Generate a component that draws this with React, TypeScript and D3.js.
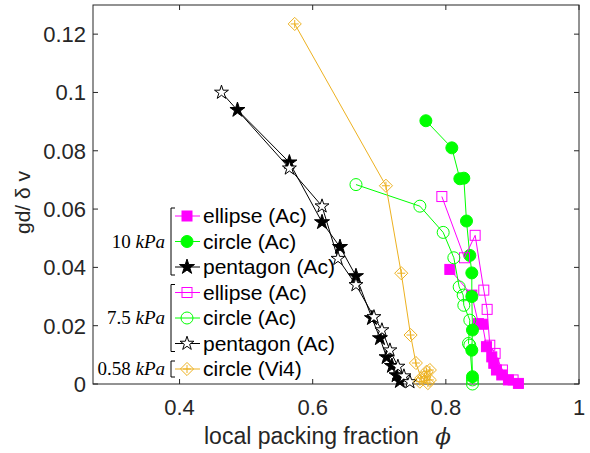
import React, { useEffect, useRef } from "react";
import * as d3 from "d3";

// 10 kPa
const ellipse10Phi = [0.806, 0.839, 0.849, 0.855, 0.861, 0.869, 0.872, 0.876, 0.884, 0.894, 0.909];
const ellipse10V = [0.0393, 0.0305, 0.0207, 0.0205, 0.0128, 0.0093, 0.0071, 0.0048, 0.0031, 0.0014, 0.0002];
const circle10Phi = [0.77, 0.809, 0.821, 0.827, 0.831, 0.836, 0.839, 0.839, 0.84, 0.839, 0.84];
const circle10V = [0.0903, 0.081, 0.0704, 0.0706, 0.0559, 0.0441, 0.0381, 0.03, 0.0185, 0.0116, 0.0025];
const pent10Phi = [0.487, 0.565, 0.614, 0.641, 0.665, 0.689, 0.701, 0.711, 0.719, 0.726, 0.731];
const pent10V = [0.094, 0.076, 0.0555, 0.047, 0.037, 0.0226, 0.0157, 0.0092, 0.0062, 0.003, 0.001];
// 7.5 kPa
const ellipse75Phi = [0.794, 0.828, 0.844, 0.857, 0.862, 0.866, 0.874, 0.885, 0.901];
const ellipse75V = [0.0643, 0.0433, 0.051, 0.0322, 0.0256, 0.0133, 0.0105, 0.0048, 0.0014];
const circle75Phi = [0.665, 0.761, 0.796, 0.812, 0.82, 0.826, 0.827, 0.836, 0.834, 0.836, 0.84, 0.84];
const circle75V = [0.0684, 0.061, 0.052, 0.0433, 0.0333, 0.0305, 0.027, 0.0219, 0.0139, 0.0133, 0.0014, 0.0];
const pent75Phi = [0.463, 0.565, 0.614, 0.638, 0.665, 0.692, 0.704, 0.716, 0.728, 0.737, 0.746];
const pent75V = [0.1, 0.074, 0.061, 0.043, 0.034, 0.023, 0.0185, 0.0116, 0.006, 0.0027, 0.0007];
// 0.58 kPa
const circleViPhi = [0.573, 0.71, 0.733, 0.747, 0.755, 0.763, 0.771, 0.776, 0.768, 0.776, 0.761, 0.773];
const circleViV = [0.1235, 0.068, 0.038, 0.0168, 0.0072, 0.002, 0.0042, 0.0048, 0.0025, 0.0014, 0.0008, 0.0003];

const xTicks = [0.4, 0.6, 0.8, 1];
const yTicks = [0, 0.02, 0.04, 0.06, 0.08, 0.1, 0.12];

const MAG = "#ff00ff";
const GRN = "#00ff00";
const BLK = "#000000";
const ORG = "#edb120";

const series = [
  { name: "ellipse (Ac)", phi: ellipse10Phi, v: ellipse10V, color: MAG, marker: "square", fill: true },
  { name: "circle (Ac)", phi: circle10Phi, v: circle10V, color: GRN, marker: "circle", fill: true },
  { name: "pentagon (Ac)", phi: pent10Phi, v: pent10V, color: BLK, marker: "star", fill: true },
  { name: "ellipse (Ac)", phi: ellipse75Phi, v: ellipse75V, color: MAG, marker: "square", fill: false },
  { name: "circle (Ac)", phi: circle75Phi, v: circle75V, color: GRN, marker: "circle", fill: false },
  { name: "pentagon (Ac)", phi: pent75Phi, v: pent75V, color: BLK, marker: "star", fill: false },
  { name: "circle (Vi4)", phi: circleViPhi, v: circleViV, color: ORG, marker: "diamond", fill: false },
];

const groups = [
  { label: "10", from: 0, to: 2 },
  { label: "7.5", from: 3, to: 5 },
  { label: "0.58", from: 6, to: 6 },
];

const App = () => {
  const svgRef = useRef(null);

  useEffect(() => {
    const svg = d3.select(svgRef.current);
    svg.selectAll("*").remove();
    const left = 93, right = 579, top = 5, bottom = 384;
    const x = d3.scaleLinear().domain([0.27, 1]).range([left, right]);
    const y = d3.scaleLinear().domain([0, 0.13]).range([bottom, top]);
    const axisColor = "#262626";
    const font = "'Liberation Sans', Helvetica, Arial, sans-serif";

    const drawMarker = (g, s, cx, cy) => {
      const fill = s.fill ? s.color : "none";
      if (s.marker === "square") {
        g.append("rect").attr("x", cx - 5).attr("y", cy - 5).attr("width", 10).attr("height", 10)
          .attr("fill", s.fill ? s.color : "none").attr("stroke", s.color).attr("stroke-width", 1);
      } else if (s.marker === "circle") {
        g.append("circle").attr("cx", cx).attr("cy", cy).attr("r", 6)
          .attr("fill", fill).attr("stroke", s.color).attr("stroke-width", 1);
      } else if (s.marker === "star") {
        g.append("path").attr("d", d3.symbol().type(d3.symbolStar).size(s.fill ? 70 : 60)())
          .attr("transform", `translate(${cx},${cy})`)
          .attr("fill", s.fill ? BLK : "white").attr("stroke", BLK).attr("stroke-width", 1);
      } else {
        g.append("path").attr("d", d3.symbol().type(d3.symbolDiamond2).size(110)())
          .attr("transform", `translate(${cx},${cy})`)
          .attr("fill", "none").attr("stroke", s.color).attr("stroke-width", 1);
        g.append("path").attr("d", `M${cx - 4},${cy}H${cx + 4}M${cx},${cy - 4}V${cy + 4}`)
          .attr("stroke", s.color).attr("stroke-width", 1);
      }
    };

    // frame
    svg.append("rect").attr("x", left).attr("y", top).attr("width", right - left).attr("height", bottom - top)
      .attr("fill", "white").attr("stroke", axisColor).attr("stroke-width", 1);

    // ticks
    const tl = 5;
    xTicks.forEach((t) => {
      svg.append("path").attr("d", `M${x(t)},${bottom}V${bottom - tl}M${x(t)},${top}V${top + tl}`)
        .attr("stroke", axisColor);
      svg.append("text").attr("x", x(t)).attr("y", bottom + 31).attr("text-anchor", "middle")
        .attr("font-family", font).attr("font-size", 22).attr("fill", axisColor).text(String(t));
    });
    yTicks.forEach((t) => {
      svg.append("path").attr("d", `M${left},${y(t)}H${left + tl}M${right},${y(t)}H${right - tl}`)
        .attr("stroke", axisColor);
      svg.append("text").attr("x", left - 7).attr("y", y(t) + 8).attr("text-anchor", "end")
        .attr("font-family", font).attr("font-size", 22).attr("fill", axisColor).text(String(t));
    });

    // axis labels
    const xl = svg.append("text").attr("x", 204).attr("y", 444).attr("text-anchor", "start")
      .attr("font-family", font).attr("font-size", 23).attr("fill", axisColor);
    xl.append("tspan").text("local packing fraction ");
    xl.append("tspan").attr("font-family", "'DejaVu Serif', serif").attr("font-style", "italic").attr("dx", 10).text("ϕ");
    svg.append("text").attr("transform", `translate(30,${(top + bottom) / 2 + 8}) rotate(-90)`)
      .attr("text-anchor", "middle").attr("font-family", font).attr("font-size", 21).attr("fill", axisColor)
      .text("gd/ δ v");

    // series
    series.forEach((s) => {
      const pts = s.phi.map((p, i) => [x(p), y(s.v[i])]);
      svg.append("path").attr("d", d3.line()(pts)).attr("fill", "none")
        .attr("stroke", s.color).attr("stroke-width", 1);
      const g = svg.append("g");
      pts.forEach(([cx, cy]) => drawMarker(g, s, cx, cy));
    });

    // legend
    const rowY = d3.scaleLinear().domain([0, 6]).range([216, 369]);
    series.forEach((s, i) => {
      const ly = rowY(i);
      svg.append("path").attr("d", `M175,${ly}H200`).attr("stroke", s.color).attr("stroke-width", 1);
      drawMarker(svg, s, 187, ly);
      svg.append("text").attr("x", 203).attr("y", ly + 7).attr("font-family", font)
        .attr("font-size", 21).attr("fill", "#000").text(s.name);
    });
    groups.forEach((gp) => {
      const y0 = rowY(gp.from) - 8, y1 = rowY(gp.to) + 8;
      svg.append("path").attr("d", `M175,${y0}H171V${y1}H175`).attr("fill", "none")
        .attr("stroke", "#000").attr("stroke-width", 1);
      const t = svg.append("text").attr("x", 165).attr("y", (y0 + y1) / 2 + 6).attr("text-anchor", "end")
        .attr("font-family", "'Liberation Serif', 'DejaVu Serif', serif").attr("font-size", 19).attr("fill", "#000");
      t.append("tspan").text(gp.label + " ");
      t.append("tspan").attr("font-style", "italic").text("kPa");
    });
  }, []);

  return (
    <svg ref={svgRef} width={590} height={453} style={{ position: "absolute", left: 0, top: 0 }}></svg>
  );
};

export default App;
